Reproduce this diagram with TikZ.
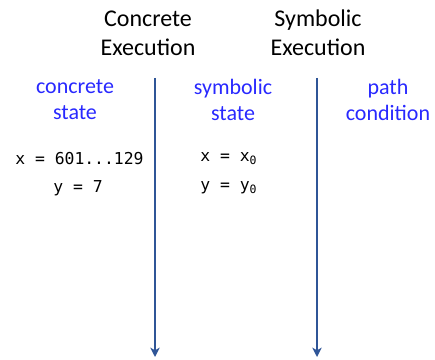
\documentclass[tikz,border=0pt]{standalone}
\usepackage{fontspec}
\setmainfont{Carlito}
\setmonofont{DejaVu Sans Mono}
\usetikzlibrary{arrows.meta}
\definecolor{axisblue}{RGB}{47,85,151}
\definecolor{labelblue}{RGB}{40,40,255}

\begin{document}
\begin{tikzpicture}[x = .75pt, y = -.75pt,
    title/.style = {align = center, font = \fontsize{18}{22}\selectfont, inner sep = 0},
    column/.style = {align = center, text = labelblue, font = \fontsize{16.5}{19.5}\selectfont, inner sep = 0},
    code/.style = {anchor = west, font = \fontsize{12.3}{14}\ttfamily, inner sep = 0}]

    \useasboundingbox (0,0) rectangle (435,360);

    \node [title] (concrete) at (148,33) {Concrete\\Execution};
    \node [title] (symbolic) at (318,33) {Symbolic\\Execution};

    \node [column] (cstate) at (75,100) {concrete\\state};
    \node [column] (sstate) at (233,100) {symbolic\\state};
    \node [column] (pcond) at (388,100) {path\\condition};

    \node [code] (cx) at (15,159) {x = 601...129};
    \node [code] (cy) at (53,188) {y = 7};
    \node [code] (sx) at (200,159) {x = x\textsubscript{0}};
    \node [code] (sy) at (200,188) {y = y\textsubscript{0}};

    \coordinate (ctop) at (155,78);
    \coordinate (cbot) at (155,357);
    \coordinate (stop) at (317,78);
    \coordinate (sbot) at (317,357);
    \foreach \a/\b in {ctop/cbot, stop/sbot} {
      \draw [-{Stealth[length = 7pt, width = 7pt, inset = 2pt]}, axisblue, line width = 1.5pt] (\a) -- (\b);
    }
\end{tikzpicture}
\end{document}
